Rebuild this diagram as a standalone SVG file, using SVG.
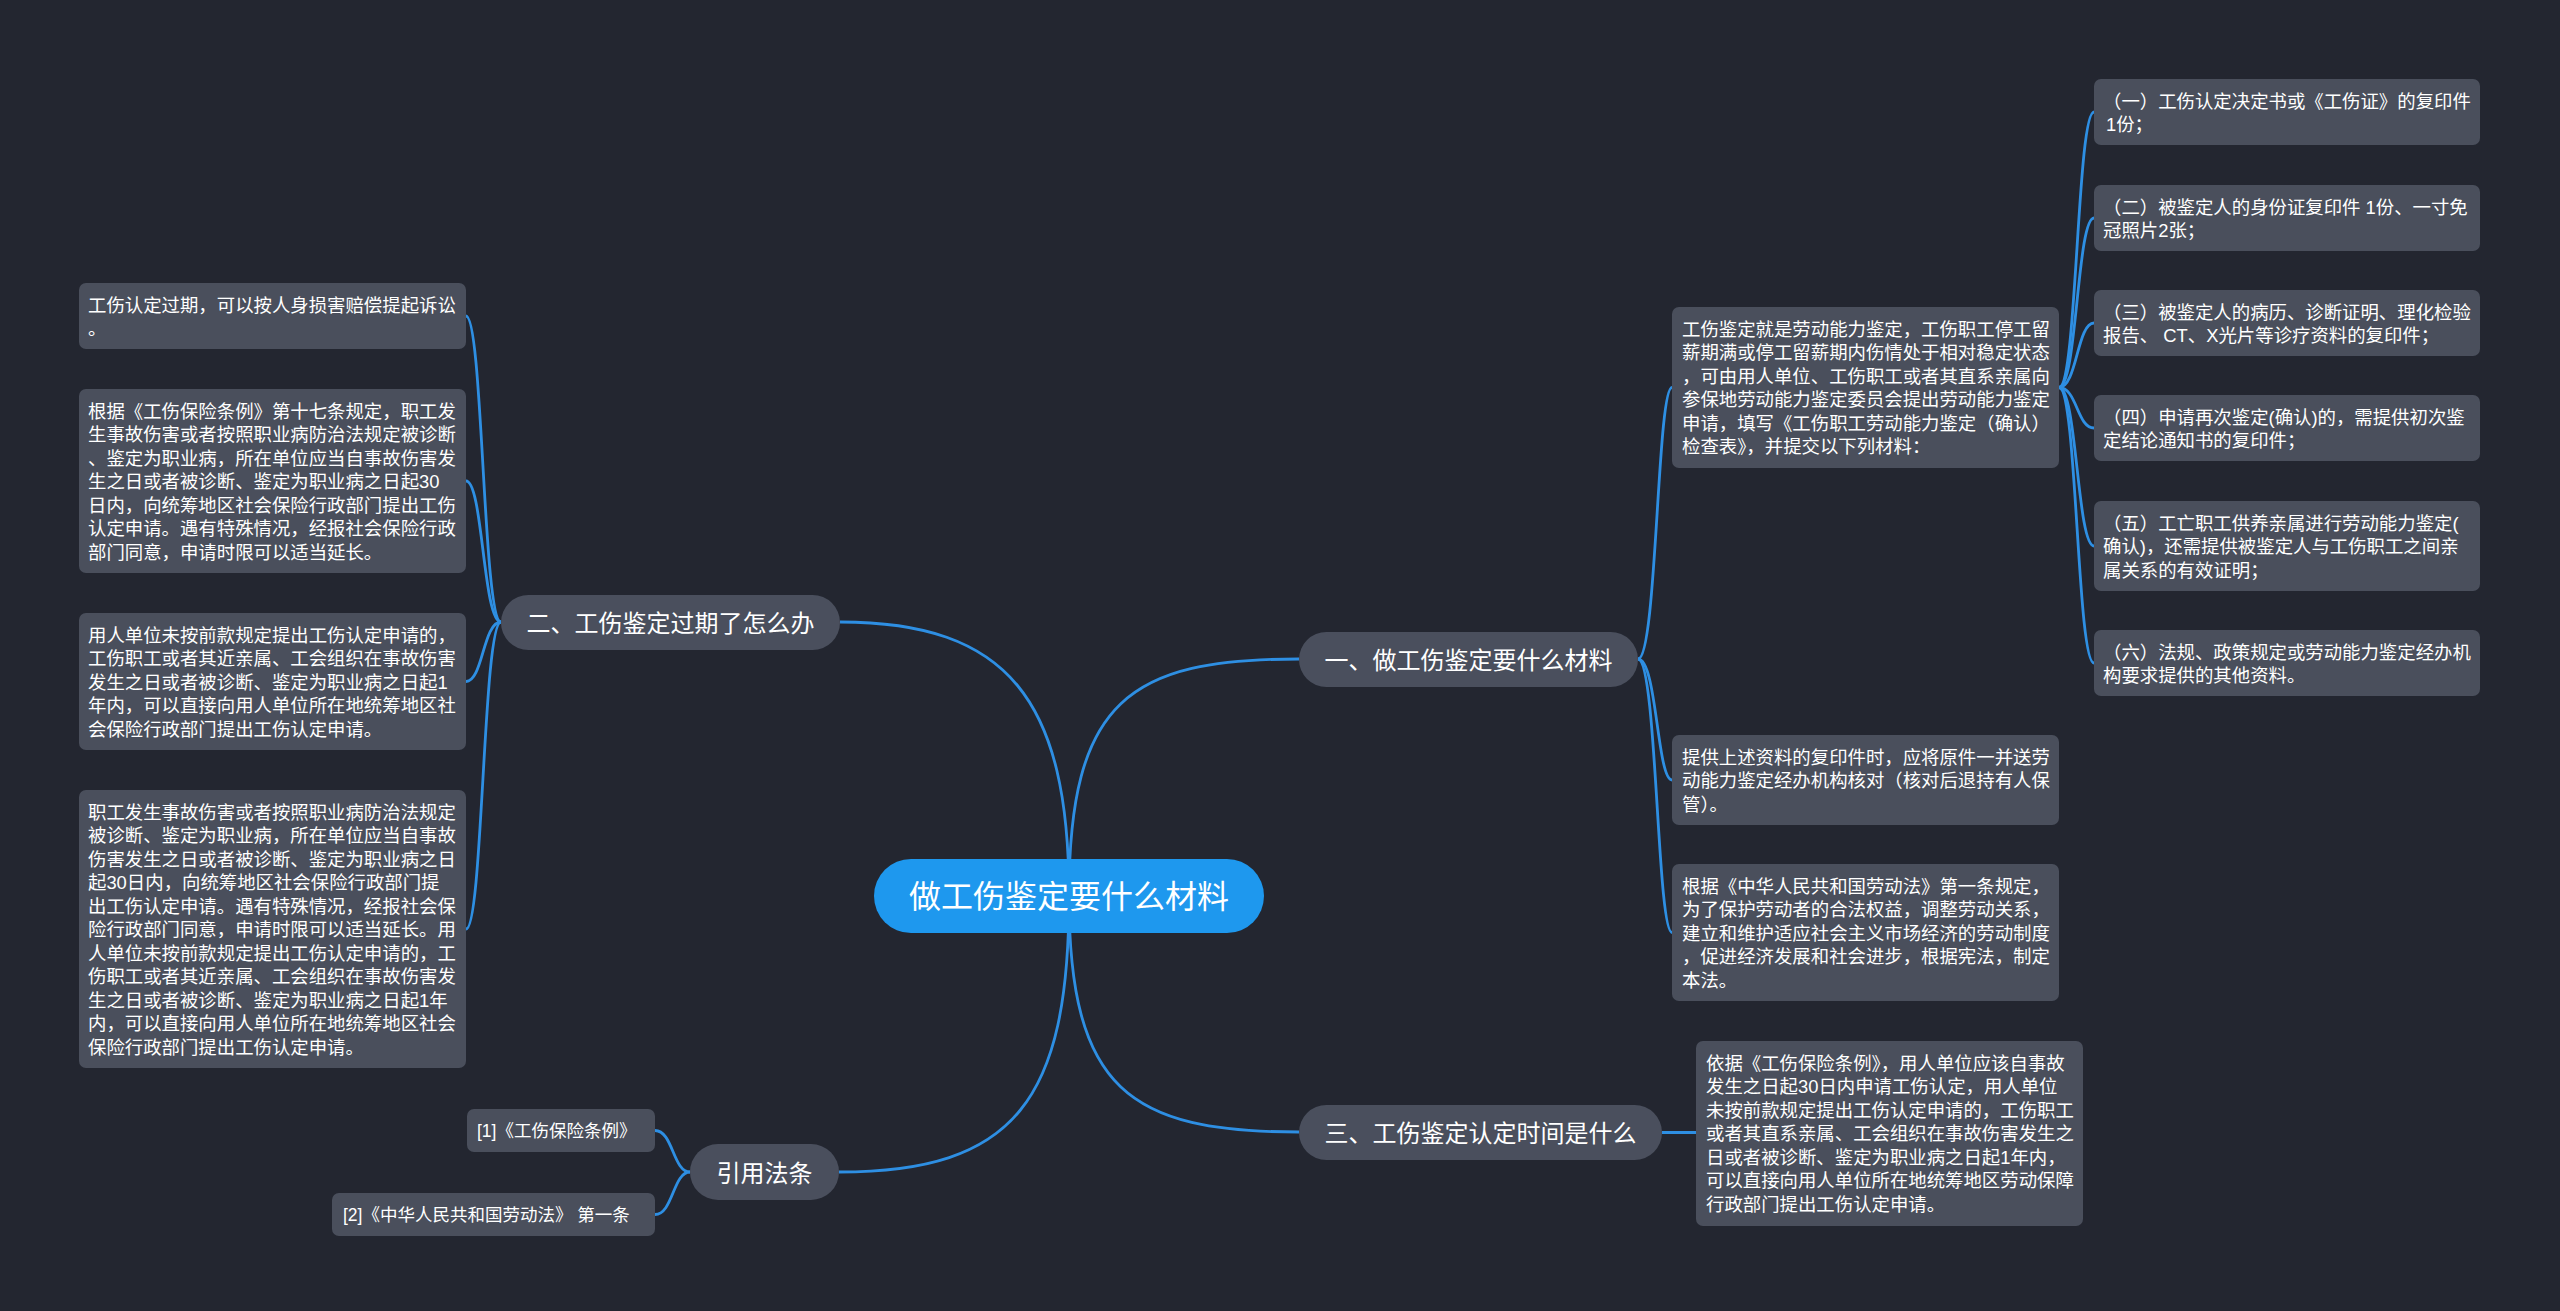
<svg xmlns="http://www.w3.org/2000/svg" width="2560" height="1311" viewBox="0 0 2560 1311">
<style>
text{font-family:"Liberation Sans","Noto Sans CJK SC",sans-serif;fill:#ffffff}
.leaf{fill:#4a4f5c}
.branch{fill:#4a4f5d}
.root{fill:#1e98ee}
.lt{font-size:18.4px}
.rt{font-size:17.5px}
.bt{font-size:24px;text-anchor:middle}
.ct{font-size:32px;text-anchor:middle}
.conn path{fill:none;stroke:#2e8fe3;stroke-width:2.8}
</style>
<rect x="0" y="0" width="2560" height="1311" fill="#232630"/>
<g class="conn" id="connectors">
<path d="M1069 896 C1069 700 1130 659 1299 659"/>
<path d="M1069 896 C1069 700 1008 622 840 622"/>
<path d="M1069 896 C1069 1090 1130 1132 1299 1132"/>
<path d="M1069 896 C1069 1100 1015 1172 839 1172"/>
<path d="M1638 659 C1657 659 1657 387.5 1672 387.5"/>
<path d="M1638 659 C1657 659 1657 780 1672 780"/>
<path d="M1638 659 C1657 659 1657 932.5 1672 932.5"/>
<path d="M2059 387.5 C2077 387.5 2077 112 2094 112"/>
<path d="M2059 387.5 C2077 387.5 2077 218 2094 218"/>
<path d="M2059 387.5 C2077 387.5 2077 323 2094 323"/>
<path d="M2059 387.5 C2077 387.5 2077 428 2094 428"/>
<path d="M2059 387.5 C2077 387.5 2077 546 2094 546"/>
<path d="M2059 387.5 C2077 387.5 2077 663 2094 663"/>
<path d="M501 622 C483 622 483 316 466 316"/>
<path d="M501 622 C483 622 483 481 466 481"/>
<path d="M501 622 C483 622 483 681.5 466 681.5"/>
<path d="M501 622 C483 622 483 929 466 929"/>
<path d="M1662 1132.5 L1696 1132.5"/>
<path d="M690 1172 C673 1172 673 1130.5 655 1130.5"/>
<path d="M690 1172 C673 1172 673 1214.5 655 1214.5"/>
</g>
<g id="root"><rect class="root" x="874" y="859" width="390" height="74" rx="37"/><text class="ct" x="1069" y="908">做工伤鉴定要什么材料</text></g>
<g id="b1"><rect class="branch" x="1299" y="632" width="339" height="55" rx="27.5"/><text class="bt" x="1468.5" y="669">一、做工伤鉴定要什么材料</text></g>
<g id="b2"><rect class="branch" x="501" y="595" width="339" height="55" rx="27.5"/><text class="bt" x="670.5" y="632">二、工伤鉴定过期了怎么办</text></g>
<g id="b3"><rect class="branch" x="1299" y="1105" width="363" height="55" rx="27.5"/><text class="bt" x="1480.5" y="1142">三、工伤鉴定认定时间是什么</text></g>
<g id="b4"><rect class="branch" x="690" y="1144" width="149" height="56" rx="28"/><text class="bt" x="764.5" y="1181.5">引用法条</text></g>
<g id="r1"><rect class="leaf" x="1672" y="307" width="387" height="161" rx="7"/><text class="lt" x="1682" y="335.5"><tspan x="1682">工伤鉴定就是劳动能力鉴定，工伤职工停工留</tspan><tspan x="1682" dy="23.5">薪期满或停工留薪期内伤情处于相对稳定状态</tspan><tspan x="1682" dy="23.5">，可由用人单位、工伤职工或者其直系亲属向</tspan><tspan x="1682" dy="23.5">参保地劳动能力鉴定委员会提出劳动能力鉴定</tspan><tspan x="1682" dy="23.5">申请，填写《工伤职工劳动能力鉴定（确认）</tspan><tspan x="1682" dy="23.5">检查表》，并提交以下列材料：</tspan></text></g>
<g id="r2"><rect class="leaf" x="1672" y="735" width="387" height="90" rx="7"/><text class="lt" x="1682" y="763.5"><tspan x="1682">提供上述资料的复印件时，应将原件一并送劳</tspan><tspan x="1682" dy="23.5">动能力鉴定经办机构核对（核对后退持有人保</tspan><tspan x="1682" dy="23.5">管）。</tspan></text></g>
<g id="r3"><rect class="leaf" x="1672" y="864" width="387" height="137" rx="7"/><text class="lt" x="1682" y="892.5"><tspan x="1682">根据《中华人民共和国劳动法》第一条规定，</tspan><tspan x="1682" dy="23.5">为了保护劳动者的合法权益，调整劳动关系，</tspan><tspan x="1682" dy="23.5">建立和维护适应社会主义市场经济的劳动制度</tspan><tspan x="1682" dy="23.5">，促进经济发展和社会进步，根据宪法，制定</tspan><tspan x="1682" dy="23.5">本法。</tspan></text></g>
<g id="s1"><rect class="leaf" x="2094" y="79" width="386" height="66" rx="7"/><text class="lt" x="2103" y="107.5"><tspan x="2103">（一）工伤认定决定书或《工伤证》的复印件</tspan><tspan x="2106" dy="23.5">1份；</tspan></text></g>
<g id="s2"><rect class="leaf" x="2094" y="185" width="386" height="66" rx="7"/><text class="lt" x="2103" y="213.5"><tspan x="2103">（二）被鉴定人的身份证复印件 1份、一寸免</tspan><tspan x="2103" dy="23.5">冠照片2张；</tspan></text></g>
<g id="s3"><rect class="leaf" x="2094" y="290" width="386" height="66" rx="7"/><text class="lt" x="2103" y="318.5"><tspan x="2103">（三）被鉴定人的病历、诊断证明、理化检验</tspan><tspan x="2103" dy="23.5">报告、 CT、X光片等诊疗资料的复印件；</tspan></text></g>
<g id="s4"><rect class="leaf" x="2094" y="395" width="386" height="66" rx="7"/><text class="lt" x="2103" y="423.5"><tspan x="2103">（四）申请再次鉴定(确认)的，需提供初次鉴</tspan><tspan x="2103" dy="23.5">定结论通知书的复印件；</tspan></text></g>
<g id="s5"><rect class="leaf" x="2094" y="501" width="386" height="90" rx="7"/><text class="lt" x="2103" y="529.5"><tspan x="2103">（五）工亡职工供养亲属进行劳动能力鉴定(</tspan><tspan x="2103" dy="23.5">确认)，还需提供被鉴定人与工伤职工之间亲</tspan><tspan x="2103" dy="23.5">属关系的有效证明；</tspan></text></g>
<g id="s6"><rect class="leaf" x="2094" y="630" width="386" height="66" rx="7"/><text class="lt" x="2103" y="658.5"><tspan x="2103">（六）法规、政策规定或劳动能力鉴定经办机</tspan><tspan x="2103" dy="23.5">构要求提供的其他资料。</tspan></text></g>
<g id="l1"><rect class="leaf" x="79" y="283" width="387" height="66" rx="7"/><text class="lt" x="88" y="311.5"><tspan x="88">工伤认定过期，可以按人身损害赔偿提起诉讼</tspan><tspan x="88" dy="23.5">。</tspan></text></g>
<g id="l2"><rect class="leaf" x="79" y="389" width="387" height="184" rx="7"/><text class="lt" x="88" y="417.5"><tspan x="88">根据《工伤保险条例》第十七条规定，职工发</tspan><tspan x="88" dy="23.5">生事故伤害或者按照职业病防治法规定被诊断</tspan><tspan x="88" dy="23.5">、鉴定为职业病，所在单位应当自事故伤害发</tspan><tspan x="88" dy="23.5">生之日或者被诊断、鉴定为职业病之日起30</tspan><tspan x="88" dy="23.5">日内，向统筹地区社会保险行政部门提出工伤</tspan><tspan x="88" dy="23.5">认定申请。遇有特殊情况，经报社会保险行政</tspan><tspan x="88" dy="23.5">部门同意，申请时限可以适当延长。</tspan></text></g>
<g id="l3"><rect class="leaf" x="79" y="613" width="387" height="137" rx="7"/><text class="lt" x="88" y="641.5"><tspan x="88">用人单位未按前款规定提出工伤认定申请的，</tspan><tspan x="88" dy="23.5">工伤职工或者其近亲属、工会组织在事故伤害</tspan><tspan x="88" dy="23.5">发生之日或者被诊断、鉴定为职业病之日起1</tspan><tspan x="88" dy="23.5">年内，可以直接向用人单位所在地统筹地区社</tspan><tspan x="88" dy="23.5">会保险行政部门提出工伤认定申请。</tspan></text></g>
<g id="l4"><rect class="leaf" x="79" y="790" width="387" height="278" rx="7"/><text class="lt" x="88" y="818.5"><tspan x="88">职工发生事故伤害或者按照职业病防治法规定</tspan><tspan x="88" dy="23.5">被诊断、鉴定为职业病，所在单位应当自事故</tspan><tspan x="88" dy="23.5">伤害发生之日或者被诊断、鉴定为职业病之日</tspan><tspan x="88" dy="23.5">起30日内，向统筹地区社会保险行政部门提</tspan><tspan x="88" dy="23.5">出工伤认定申请。遇有特殊情况，经报社会保</tspan><tspan x="88" dy="23.5">险行政部门同意，申请时限可以适当延长。用</tspan><tspan x="88" dy="23.5">人单位未按前款规定提出工伤认定申请的，工</tspan><tspan x="88" dy="23.5">伤职工或者其近亲属、工会组织在事故伤害发</tspan><tspan x="88" dy="23.5">生之日或者被诊断、鉴定为职业病之日起1年</tspan><tspan x="88" dy="23.5">内，可以直接向用人单位所在地统筹地区社会</tspan><tspan x="88" dy="23.5">保险行政部门提出工伤认定申请。</tspan></text></g>
<g id="t1"><rect class="leaf" x="1696" y="1041" width="387" height="185" rx="7"/><text class="lt" x="1706" y="1069.5"><tspan x="1706">依据《工伤保险条例》，用人单位应该自事故</tspan><tspan x="1706" dy="23.5">发生之日起30日内申请工伤认定，用人单位</tspan><tspan x="1706" dy="23.5">未按前款规定提出工伤认定申请的，工伤职工</tspan><tspan x="1706" dy="23.5">或者其直系亲属、工会组织在事故伤害发生之</tspan><tspan x="1706" dy="23.5">日或者被诊断、鉴定为职业病之日起1年内，</tspan><tspan x="1706" dy="23.5">可以直接向用人单位所在地统筹地区劳动保障</tspan><tspan x="1706" dy="23.5">行政部门提出工伤认定申请。</tspan></text></g>
<g id="f1"><rect class="leaf" x="467" y="1109" width="188" height="43" rx="7"/><text class="rt" x="477" y="1137">[1]《工伤保险条例》</text></g>
<g id="f2"><rect class="leaf" x="332" y="1193" width="323" height="43" rx="7"/><text class="rt" x="343" y="1221">[2]《中华人民共和国劳动法》 第一条</text></g>
</svg>
